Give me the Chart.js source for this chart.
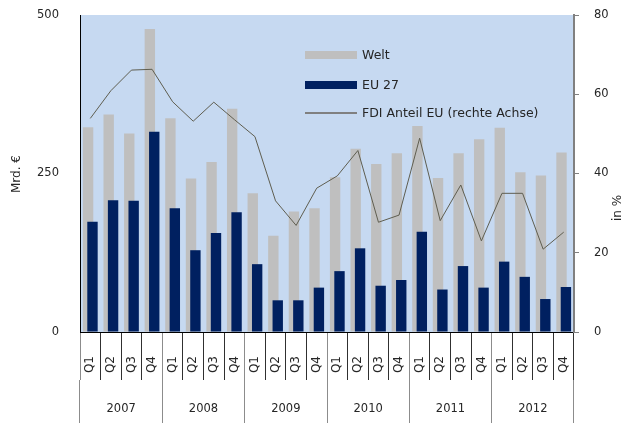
<!DOCTYPE html>
<html>
<head>
<meta charset="utf-8">
<script src="https://cdn.jsdelivr.net/npm/chart.js@4.4.1/dist/chart.umd.min.js"></script>
<style>
  html, body { margin: 0; padding: 0; background: #ffffff; }
  #wrap { position: relative; width: 638px; height: 423px; }
</style>
</head>
<body>
<div id="wrap"><canvas id="c"></canvas></div>
<script>
// ---- data ----
const quarterLabels = ['Q1','Q2','Q3','Q4','Q1','Q2','Q3','Q4','Q1','Q2','Q3','Q4',
                       'Q1','Q2','Q3','Q4','Q1','Q2','Q3','Q4','Q1','Q2','Q3','Q4'];
const yearLabels = ['2007','2008','2009','2010','2011','2012'];
const welt = [323,343,313,478,337,242,268,352,219,152,190,195,244,289,265,282,325,243,282,304,322,252,247,283];
const eu27 = [174,208,207,316,195,129,156,189,107,50,50,70,96,132,73,82,158,67,104,70,111,87,52,71];
const fdiShare = [53.9,60.9,66.1,66.3,58.1,53.2,58.0,53.6,49.3,33.1,26.9,36.3,39.4,45.8,27.7,29.5,48.9,28.1,37.1,23.0,35.0,35.0,20.9,25.2];
const leftTicks = [0,250,500];
const rightTicks = [0,20,40,60,80];
const seriesNames = ['Welt','EU 27','FDI Anteil EU (rechte Achse)'];
const leftTitle = 'Mrd. €';
const rightTitle = 'in %';

const FONT = 'DejaVu Sans';
const TXT = '#262626';

const bgPlugin = {
  id: 'plotBg',
  beforeDraw(chart) {
    const a = chart.chartArea, ctx = chart.ctx;
    ctx.save();
    ctx.fillStyle = '#C6D9F1';
    ctx.fillRect(a.left, a.top, a.right - a.left, a.bottom - a.top);
    ctx.restore();
  }
};

// draw datasets in index order (gray, navy, line) so later ones sit on top
const orderPlugin = {
  id: 'drawOrder',
  beforeDatasetsDraw(chart) {
    const a = chart.chartArea, ctx = chart.ctx;
    const metas = chart.getSortedVisibleDatasetMetas().slice().sort((m1, m2) => m1.index - m2.index);
    ctx.save();
    ctx.beginPath();
    ctx.rect(a.left, a.top - 2, a.right - a.left, a.bottom - a.top + 2);
    ctx.clip();
    metas.forEach(m => m.controller.draw());
    ctx.restore();
    return false;
  }
};

const legendTitlesPlugin = {
  id: 'legendTitles',
  afterDraw(chart) {
    const ctx = chart.ctx;
    const ds = chart.data.datasets;
    ctx.save();
    // legend
    const x0 = 305, w = 52, rows = [55, 85, 113];
    ctx.font = '12.5px "' + FONT + '"';
    ctx.textBaseline = 'middle';
    ctx.textAlign = 'left';
    ds.forEach((d, i) => {
      const y = rows[i];
      if (d.type === 'line') {
        ctx.strokeStyle = '#808080';
        ctx.lineWidth = 2;
        ctx.beginPath(); ctx.moveTo(x0, y); ctx.lineTo(x0 + w, y); ctx.stroke();
      } else {
        ctx.fillStyle = d.backgroundColor;
        ctx.fillRect(x0, y - 4, w, 8);
      }
      ctx.fillStyle = TXT;
      ctx.fillText(d.label, x0 + w + 5, y + 1);
    });
    // axis titles
    ctx.font = '12px "' + FONT + '"';
    ctx.textAlign = 'center';
    ctx.textBaseline = 'middle';
    ctx.fillStyle = TXT;
    ctx.save(); ctx.translate(17, 174); ctx.rotate(-Math.PI / 2); ctx.fillText(leftTitle, 0, 0); ctx.restore();
    ctx.save(); ctx.translate(618, 208); ctx.rotate(-Math.PI / 2); ctx.fillText(rightTitle, 0, 0); ctx.restore();
    ctx.restore();
  }
};

new Chart(document.getElementById('c'), {
  data: {
    labels: quarterLabels,
    datasets: [
      { type: 'bar', label: seriesNames[0], data: welt, backgroundColor: '#BFBFBF',
        yAxisID: 'y', xAxisID: 'x', categoryPercentage: 0.4275, barPercentage: 2.36 },
      { type: 'bar', label: seriesNames[1], data: eu27, backgroundColor: '#002060',
        yAxisID: 'y', xAxisID: 'x', categoryPercentage: 0.4275, barPercentage: 2.36 },
      { type: 'line', label: seriesNames[2], data: fdiShare, borderColor: '#5f5e50', borderWidth: 1,
        pointRadius: 0, tension: 0, fill: false, yAxisID: 'y1', xAxisID: 'x' }
    ]
  },
  options: {
    responsive: true,
    maintainAspectRatio: false,
    animation: false,
    layout: { padding: { top: 15, left: 0, right: 0, bottom: 0 } },
    plugins: { legend: { display: false }, tooltip: { enabled: false }, title: { display: false } },
    scales: {
      x: {
        type: 'category', position: 'bottom', offset: true, weight: 0,
        grid: { display: true, offset: true, drawOnChartArea: false, drawTicks: true, tickLength: 48,
                color: (c) => (c.index % 4 === 0 ? '#8c8c8c' : '#303030'), lineWidth: 1 },
        border: { display: true, color: '#000000', width: 1 },
        ticks: { autoSkip: false, maxRotation: 90, minRotation: 90, padding: -24,
                 color: TXT, font: { family: FONT, size: 12 } },
        afterFit(s) { s.height = 48; s.paddingLeft = 0; s.paddingRight = 0; }
      },
      x2: {
        type: 'category', position: 'bottom', labels: yearLabels, offset: true, weight: 1,
        grid: { display: true, offset: true, drawOnChartArea: false, drawTicks: true, tickLength: 43,
                color: '#8c8c8c', lineWidth: 1 },
        border: { display: false },
        ticks: { autoSkip: false, maxRotation: 0, minRotation: 0, padding: -21,
                 color: TXT, font: { family: FONT, size: 11.5 } },
        afterFit(s) { s.height = 43; s.paddingLeft = 0; s.paddingRight = 0; }
      },
      y: {
        type: 'linear', position: 'left', min: leftTicks[0], max: leftTicks[leftTicks.length - 1],
        afterBuildTicks(s) { s.ticks = leftTicks.map(v => ({ value: v })); },
        grid: { display: true, drawOnChartArea: false, drawTicks: false },
        border: { display: true, color: '#000000', width: 1 },
        ticks: { padding: 21, color: TXT, font: { family: FONT, size: 11.5 } },
        afterFit(s) { s.width = 80; s.paddingTop = 0; s.paddingBottom = 0; }
      },
      y1: {
        type: 'linear', position: 'right', min: rightTicks[0], max: rightTicks[rightTicks.length - 1],
        afterBuildTicks(s) { s.ticks = rightTicks.map(v => ({ value: v })); },
        grid: { display: true, drawOnChartArea: false, drawTicks: true, tickLength: 5, color: '#808080' },
        border: { display: true, color: '#808080', width: 2 },
        ticks: { padding: 15, color: TXT, font: { family: FONT, size: 11.5 } },
        afterFit(s) { s.width = 64; s.paddingTop = 0; s.paddingBottom = 0; }
      }
    }
  },
  plugins: [bgPlugin, orderPlugin, legendTitlesPlugin]
});
</script>
</body>
</html>
